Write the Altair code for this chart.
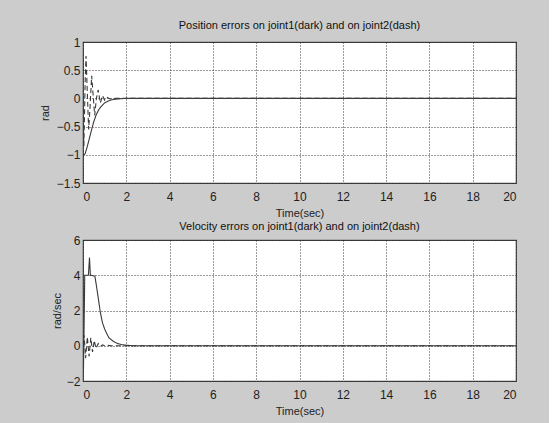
import altair as alt
import pandas as pd

# ---- data ----
pos_j1_t = [0, 0.05, 0.1, 0.2, 0.3, 0.4, 0.5, 0.6, 0.7, 0.8, 0.9, 1.0, 1.2, 1.4, 1.6, 1.8, 2.0, 20]
pos_j1_v = [-1.0, -1.0, -0.98, -0.85, -0.7, -0.55, -0.41, -0.3, -0.22, -0.16, -0.12, -0.08, -0.04, -0.02, -0.01, -0.004, 0, 0]

pos_j2_t = [0, 0.04, 0.1, 0.14, 0.2, 0.26, 0.32, 0.4, 0.46, 0.54, 0.62, 0.7, 0.8, 0.9, 1.0, 1.1, 1.25, 1.4, 1.6, 20]
pos_j2_v = [0, -0.85, 0.3, 0.75, 0.1, -0.55, -0.2, 0.4, 0.1, -0.3, 0.0, 0.15, -0.08, 0.05, -0.03, 0.02, -0.01, 0.0, 0.0, 0]

vel_j1_t = [0, 0.02, 0.05, 0.08, 0.25, 0.3, 0.34, 0.55, 0.62, 0.7, 0.8, 0.9, 1.0, 1.1, 1.2, 1.4, 1.6, 1.8, 2.0, 2.3, 20]
vel_j1_v = [0, -1.5, 1.0, 4.0, 4.0, 5.0, 4.0, 3.95, 3.4, 2.75, 1.9, 1.3, 0.95, 0.68, 0.45, 0.25, 0.12, 0.06, 0.03, 0.0, 0]

vel_j2_t = [0, 0.05, 0.12, 0.2, 0.28, 0.36, 0.44, 0.52, 0.6, 0.7, 0.8, 0.9, 1.0, 1.15, 1.3, 20]
vel_j2_v = [0, 0.6, -0.7, 0.5, -0.6, 0.45, -0.35, 0.3, -0.15, 0.12, -0.05, 0.05, 0.0, 0.02, 0, 0]

x_ticks = [0, 2, 4, 6, 8, 10, 12, 14, 16, 18, 20]
pos_ticks = [-1.5, -1, -0.5, 0, 0.5, 1]
vel_ticks = [-2, 0, 2, 4, 6]

title_top = "Position errors on joint1(dark) and on joint2(dash)"
title_bot = "Velocity errors on joint1(dark) and on joint2(dash)"

FONT = "Liberation Sans"


def frame(t1, v1, t2, v2):
    rows = []
    for i, (t, v) in enumerate(zip(t1, v1)):
        rows.append({"t": t, "v": v, "joint": "joint1", "i": i})
    for i, (t, v) in enumerate(zip(t2, v2)):
        rows.append({"t": t, "v": v, "joint": "joint2", "i": i})
    return pd.DataFrame(rows)


def panel(df, title, ylab, ydom, yticks, ytitle_x, toff):
    x = alt.X("t:Q", scale=alt.Scale(domain=[0, 20], nice=False, zero=False),
              axis=alt.Axis(values=x_ticks, title="Time(sec)", ticks=False,
                            labelPadding=8, titlePadding=5, format="d"))
    y = alt.Y("v:Q", scale=alt.Scale(domain=ydom, nice=False, zero=False),
              axis=alt.Axis(values=yticks, title=ylab, ticks=False, labelPadding=3,
                            titleX=ytitle_x, titleBaseline="middle", format="~g"))
    return alt.Chart(df).mark_line(strokeWidth=1.1, color="#3a3a3a", clip=True).encode(
        x=x, y=y,
        strokeDash=alt.StrokeDash("joint:N",
                                  scale=alt.Scale(domain=["joint1", "joint2"], range=[[1, 0], [5, 3]]),
                                  legend=None),
        order="i:Q",
    ).properties(
        width=433, height=141,
        title=alt.TitleParams(title, fontSize=11, fontWeight="normal", font=FONT,
                              color="#111111", offset=toff, frame="group", anchor="middle"),
    )


top = panel(frame(pos_j1_t, pos_j1_v, pos_j2_t, pos_j2_v), title_top, "rad",
            [-1.5, 1], pos_ticks, -38, 5)
bot = panel(frame(vel_j1_t, vel_j1_v, vel_j2_t, vel_j2_v), title_bot, "rad/sec",
            [-2, 6], vel_ticks, -26, 2)

chart = alt.vconcat(top, bot, spacing=57, bounds="flush").properties(
    padding={"left": 38, "top": 19, "right": 32, "bottom": 7},
).configure(background="#cccccc").configure_view(
    fill="white", stroke="#444444", strokeWidth=1.2
).configure_axis(
    labelFont=FONT, titleFont=FONT, labelFontSize=12, titleFontSize=11,
    labelColor="#222222", titleColor="#222222", titleFontWeight="normal",
    domain=False, grid=True, gridColor="#222222", gridDash=[1, 2], gridOpacity=0.9,
    gridWidth=1,
)

chart.save("out.html", embed_options={"renderer": "svg", "actions": False})
